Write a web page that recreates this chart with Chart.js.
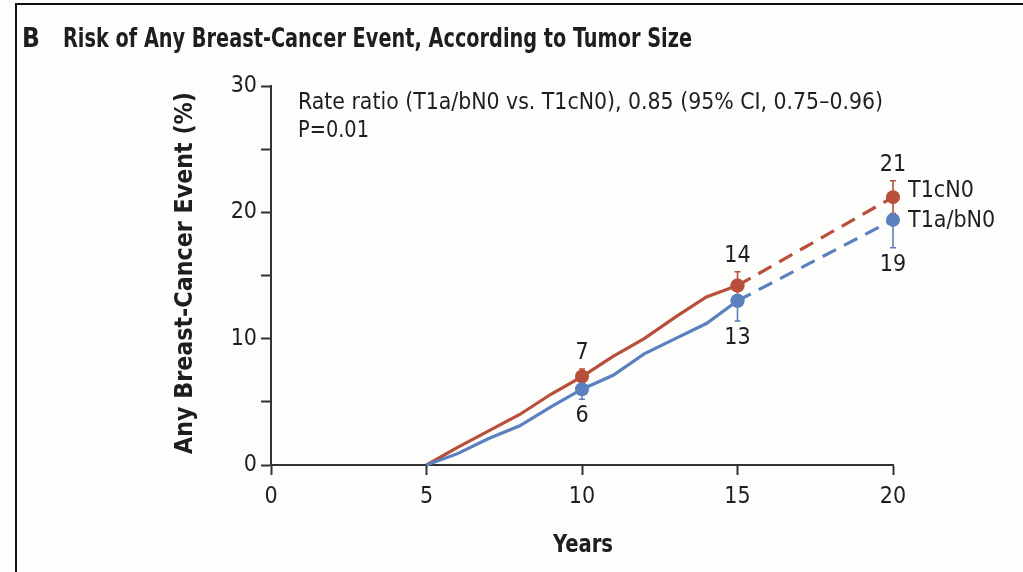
<!DOCTYPE html>
<html>
<head>
<meta charset="utf-8">
<script src="https://cdn.jsdelivr.net/npm/chart.js@4"></script>
<style>
  html, body { margin: 0; padding: 0; background: #fdfdfc; }
  #wrap { width: 1023px; height: 572px; }
</style>
</head>
<body>
<div id="wrap"><canvas id="risk" width="1023" height="572"></canvas></div>
<script>
// values
const years = [5, 6, 7, 8, 9, 10, 11, 12, 13, 14, 15];
const t1cObserved  = [0, 1.4, 2.7, 4.0, 5.6, 7.0, 8.6, 10.0, 11.7, 13.3, 14.2];
const t1abObserved = [0, 0.9, 2.1, 3.1, 4.6, 6.0, 7.1, 8.8, 10.0, 11.2, 13.0];

const projYears = [15, 20];
const t1cProjected  = [14.2, 21.2];
const t1abProjected = [13.0, 19.4];

const markerYears = [10, 15, 20];
const t1cHigh = [7.6, 15.3, 22.5];
const t1cLow  = [6.6, 13.4, 19.9];
const t1abHigh = [6.0, 13.0, 19.4];
const t1abLow  = [5.2, 11.4, 17.2];
const t1cLabels  = ['7', '14', '21'];
const t1abLabels = ['6', '13', '19'];

const xTicks = [0, 5, 10, 15, 20];
const yTicks = [0, 10, 20, 30];

const RED = '#b84f3b';
const BLUE = '#5b80bf';
const INK = '#1e1e1e';
const FONT = "'Liberation Sans Narrow', 'DejaVu Sans Condensed', Lato, sans-serif";

function pts(xs, ys) {
    return xs.map(function(x, i) { return {x: x, y: ys[i]}; });
}
function markerRadius(ctx) {
    return markerYears.indexOf(ctx.raw.x) >= 0 ? 7 : 0;
}

function txt(ctx, s, x, y, size, bold, align, maxW) {
    ctx.font = (bold ? 'bold ' : '') + size + 'px ' + FONT;
    ctx.textAlign = align || 'left';
    ctx.textBaseline = 'middle';
    ctx.fillStyle = INK;
    if (maxW) ctx.fillText(s, x, y, maxW); else ctx.fillText(s, x, y);
}

const annotations = {
    id: 'annotations',
    beforeDraw(chart) {
        const ctx = chart.ctx;
        ctx.save();
        ctx.strokeStyle = '#111';
        ctx.lineWidth = 2;
        ctx.beginPath();
        ctx.moveTo(16, 572);
        ctx.lineTo(16, 4);
        ctx.lineTo(1023, 4);
        ctx.stroke();
        ctx.restore();
    },
    beforeDatasetsDraw(chart) {
        const ctx = chart.ctx, xs = chart.scales.x, ys = chart.scales.y;
        ctx.save();
        ctx.lineWidth = 1.6;
        function bar(color, lo, hi) {
            ctx.strokeStyle = color;
            markerYears.forEach(function(yr, i) {
                const px = xs.getPixelForValue(yr);
                const a = ys.getPixelForValue(lo[i]), b = ys.getPixelForValue(hi[i]);
                ctx.beginPath();
                ctx.moveTo(px, a); ctx.lineTo(px, b);
                ctx.moveTo(px - 3, a); ctx.lineTo(px + 3, a);
                ctx.moveTo(px - 3, b); ctx.lineTo(px + 3, b);
                ctx.stroke();
            });
        }
        bar(RED, t1cLow, t1cHigh);
        bar(BLUE, t1abLow, t1abHigh);
        ctx.restore();
    },
    afterDatasetsDraw(chart) {
        const ctx = chart.ctx, xs = chart.scales.x, ys = chart.scales.y;
        ctx.save();
        txt(ctx, 'B', 22, 40, 26, true);
        txt(ctx, 'Risk of Any Breast-Cancer Event, According to Tumor Size', 63, 40, 26, true, 'left', 629);
        txt(ctx, 'Rate ratio (T1a/bN0 vs. T1cN0), 0.85 (95% CI, 0.75\u20130.96)', 298, 103, 23, false, 'left', 585);
        txt(ctx, 'P=0.01', 298, 131, 23, false, 'left', 71);

        markerYears.forEach(function(yr, i) {
            const px = xs.getPixelForValue(yr);
            txt(ctx, t1cLabels[i], px, ys.getPixelForValue(t1cHigh[i]) - 16, 23, false, 'center');
            txt(ctx, t1abLabels[i], px, ys.getPixelForValue(t1abLow[i]) + 17, 23, false, 'center');
        });
        const endX = xs.getPixelForValue(20) + 15;
        txt(ctx, 'T1cN0', endX, ys.getPixelForValue(t1cProjected[1]) - 6, 23, false, 'left', 68);
        txt(ctx, 'T1a/bN0', endX, ys.getPixelForValue(t1abProjected[1]) + 1, 23, false, 'left', 92);

        ctx.translate(185, 273);
        ctx.rotate(-Math.PI / 2);
        txt(ctx, 'Any Breast-Cancer Event (%)', 0, 0, 25, true, 'center', 362);
        ctx.restore();

        ctx.save();
        txt(ctx, 'Years', 583, 545, 25, true, 'center', 60);
        ctx.restore();
    }
};

const ctx = document.getElementById('risk').getContext('2d');

const riskChart = new Chart(ctx, {
    type: 'line',
    data: {
        datasets: [
            { label: 'T1a/bN0', data: pts(years, t1abObserved), borderColor: BLUE, backgroundColor: BLUE,
              borderWidth: 3.2, pointRadius: markerRadius, pointBorderWidth: 0, order: 0, clip: false, tension: 0 },
            { label: 'T1a/bN0 projected', data: pts(projYears, t1abProjected), borderColor: BLUE, backgroundColor: BLUE,
              borderWidth: 3.2, borderDash: [15, 9], pointRadius: markerRadius, pointBorderWidth: 0, order: 0, clip: false },
            { label: 'T1cN0', data: pts(years, t1cObserved), borderColor: RED, backgroundColor: RED,
              borderWidth: 3.2, pointRadius: markerRadius, pointBorderWidth: 0, order: 1, clip: false, tension: 0 },
            { label: 'T1cN0 projected', data: pts(projYears, t1cProjected), borderColor: RED, backgroundColor: RED,
              borderWidth: 3.2, borderDash: [15, 9], pointRadius: markerRadius, pointBorderWidth: 0, order: 1, clip: false }
        ]
    },
    options: {
        responsive: false,
        animation: false,
        layout: { padding: { top: 86, right: 130, left: 0, bottom: 0 } },
        plugins: { legend: { display: false }, tooltip: { enabled: false } },
        scales: {
            x: {
                type: 'linear',
                min: 0, max: 20,
                afterFit: function(scale) { scale.height = 107; },
                afterBuildTicks: function(scale) { scale.ticks = xTicks.map(function(v) { return {value: v}; }); },
                ticks: { color: INK, font: { size: 23, family: FONT }, padding: 8 },
                grid: { drawOnChartArea: false, drawTicks: true, tickLength: 10, tickColor: '#333', tickWidth: 2 },
                border: { display: true, color: '#333', width: 2 }
            },
            y: {
                min: 0, max: 30,
                afterFit: function(scale) { scale.width = 271; },
                ticks: {
                    stepSize: 5,
                    color: INK, font: { size: 23, family: FONT }, padding: 4,
                    callback: function(value) { return yTicks.indexOf(value) >= 0 ? value : ''; }
                },
                grid: { drawOnChartArea: false, drawTicks: true, tickLength: 10, tickColor: '#333', tickWidth: 2 },
                border: { display: true, color: '#333', width: 2 }
            }
        }
    },
    plugins: [annotations]
});
</script>
</body>
</html>
